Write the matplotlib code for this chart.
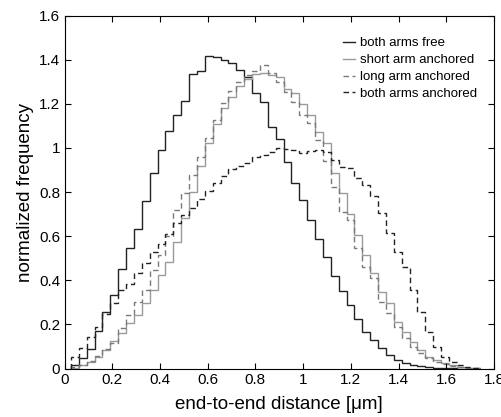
import numpy as np
import matplotlib
matplotlib.use("Agg")
import matplotlib.pyplot as plt
from matplotlib.ticker import FuncFormatter

plt.rcParams['font.family'] = ['Liberation Sans', 'DejaVu Sans']

# histogram bins (common grid for all four curves)
bin_start = 0.027
bin_width = 0.033
n_bins = 52
edges = bin_start + bin_width * np.arange(n_bins + 1)

both_free = [0.016, 0.046, 0.090, 0.171, 0.256, 0.333, 0.452, 0.545, 0.632, 0.761,
             0.885, 0.990, 1.078, 1.148, 1.214, 1.335, 1.350, 1.417, 1.411, 1.398,
             1.386, 1.353, 1.321, 1.248, 1.209, 1.096, 1.039, 0.937, 0.842, 0.762,
             0.675, 0.587, 0.507, 0.419, 0.350, 0.288, 0.225, 0.167, 0.129, 0.092,
             0.061, 0.039, 0.024, 0.016, 0.011, 0.007, 0.004, 0.002, 0.001, 0.0,
             0.0, 0.0]

short_anchored = [0.004, 0.016, 0.031, 0.054, 0.084, 0.125, 0.162, 0.205, 0.243, 0.296,
                  0.356, 0.424, 0.484, 0.575, 0.680, 0.800, 0.920, 1.020, 1.110, 1.180,
                  1.230, 1.280, 1.310, 1.335, 1.338, 1.330, 1.320, 1.265, 1.250, 1.200,
                  1.150, 1.070, 1.020, 0.885, 0.794, 0.700, 0.605, 0.515, 0.432, 0.348,
                  0.296, 0.212, 0.167, 0.122, 0.084, 0.054, 0.039, 0.024, 0.015, 0.008,
                  0.004, 0.002]

long_anchored = [0.006, 0.016, 0.035, 0.057, 0.087, 0.114, 0.182, 0.243, 0.303, 0.356,
                 0.447, 0.514, 0.600, 0.718, 0.794, 0.877, 0.957, 1.043, 1.126, 1.202,
                 1.260, 1.300, 1.330, 1.350, 1.376, 1.338, 1.300, 1.255, 1.209, 1.149,
                 1.111, 1.036, 0.940, 0.824, 0.711, 0.673, 0.545, 0.461, 0.410, 0.303,
                 0.250, 0.189, 0.137, 0.096, 0.069, 0.046, 0.031, 0.020, 0.011, 0.006,
                 0.003, 0.001]

both_anchored = [0.052, 0.095, 0.145, 0.189, 0.246, 0.296, 0.357, 0.384, 0.435, 0.480,
                 0.526, 0.565, 0.609, 0.658, 0.694, 0.727, 0.768, 0.805, 0.843, 0.873,
                 0.905, 0.918, 0.933, 0.960, 0.968, 0.983, 0.998, 0.995, 0.990, 0.975,
                 0.987, 0.990, 0.983, 0.945, 0.912, 0.907, 0.865, 0.830, 0.780, 0.707,
                 0.613, 0.530, 0.458, 0.356, 0.258, 0.165, 0.098, 0.052, 0.030, 0.016,
                 0.009, 0.004]

fig = plt.figure(figsize=(5.02, 4.17), dpi=100)
ax = fig.add_axes([0.1285, 0.1163, 0.8555, 0.8465])

ax.stairs(both_free, edges, color='#222222', lw=1.0, label='both arms free')
ax.stairs(short_anchored, edges, color='#9a9a9a', lw=1.0, label='short arm anchored')
ax.stairs(long_anchored, edges, color='#7a7a7a', lw=1.0, ls=(0, (4, 2.5)),
          label='long arm anchored')
ax.stairs(both_anchored, edges, color='#222222', lw=1.0, ls=(0, (4, 2.5)),
          label='both arms anchored')

ax.set_xlim(0, 1.8)
ax.set_ylim(0, 1.6)
ax.set_xticks(np.arange(0, 1.81, 0.2))
ax.set_yticks(np.arange(0, 1.61, 0.2))
fmt = FuncFormatter(lambda v, p: '%g' % round(v, 1))
ax.xaxis.set_major_formatter(fmt)
ax.yaxis.set_major_formatter(fmt)
ax.tick_params(direction='in', top=True, right=True, length=4, width=0.8,
               labelsize=11, pad=3)
for s in ax.spines.values():
    s.set_linewidth(0.8)

ax.set_xlabel('end-to-end distance [\u03bcm]', fontsize=13.5, labelpad=7)
ax.set_ylabel('normalized frequency', fontsize=13.5, labelpad=4)

leg = ax.legend(loc='upper right', bbox_to_anchor=(0.988, 0.973), frameon=False,
                fontsize=9.5, handlelength=0.9, handletextpad=0.4, labelspacing=0.36)

fig.savefig('out.png', dpi=100)
